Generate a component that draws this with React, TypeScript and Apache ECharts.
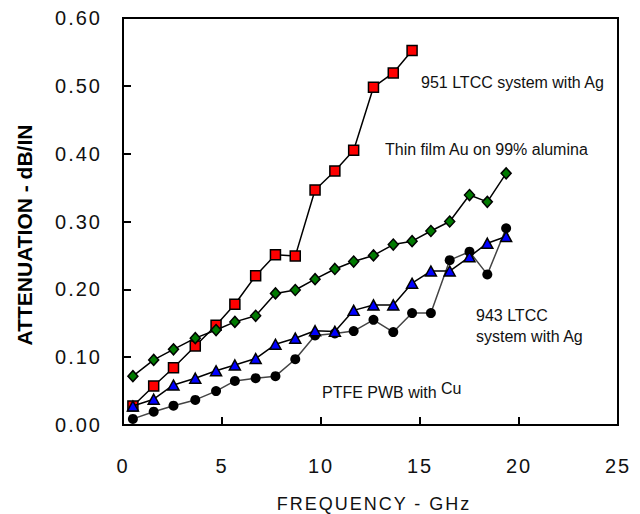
import React, { useEffect, useRef } from "react";
import * as echarts from "echarts";

const freq = [0.5, 1.55, 2.55, 3.65, 4.7, 5.65, 6.7, 7.7, 8.7, 9.7, 10.7, 11.65, 12.65, 13.65, 14.6, 15.55, 16.5, 17.5, 18.4, 19.35];
const ltcc951 = [0.028, 0.0575, 0.0845, 0.1165, 0.147, 0.178, 0.22, 0.251, 0.249, 0.3465, 0.3745, 0.405, 0.498, 0.519, 0.552];
const thinFilm = [0.072, 0.096, 0.1115, 0.128, 0.14, 0.152, 0.161, 0.194, 0.199, 0.215, 0.23, 0.241, 0.25, 0.266, 0.271, 0.286, 0.3, 0.339, 0.329, 0.371];
const ltcc943 = [0.028, 0.038, 0.059, 0.069, 0.08, 0.0885, 0.098, 0.119, 0.128, 0.139, 0.138, 0.169, 0.177, 0.177, 0.209, 0.227, 0.227, 0.248, 0.268, 0.278];
const ptfe = [0.009, 0.0196, 0.0285, 0.037, 0.05, 0.065, 0.069, 0.072, 0.097, 0.132, 0.135, 0.1385, 0.155, 0.137, 0.165, 0.165, 0.243, 0.2555, 0.222, 0.29];

const pairs = (ys: number[]) => ys.map((y, i) => [freq[i], y]);

const FONT = '"Liberation Sans", Arial, sans-serif';

export default function App() {
  const ref = useRef<HTMLDivElement>(null);
  useEffect(() => {
    if (!ref.current) return;
    const chart = echarts.init(ref.current, null, { renderer: "svg" });
    const annot = (text: string, x: number, y: number, size = 16) => ({
      type: "text",
      x,
      y,
      style: { text, fontSize: size, fontFamily: FONT, fill: "#111", align: "left", verticalAlign: "middle" },
    });
    chart.setOption({
      animation: false,
      backgroundColor: "#fff",
      grid: { left: 123, right: 22, top: 18, bottom: 89, show: true, borderColor: "#000", borderWidth: 2, backgroundColor: "transparent" },
      xAxis: {
        type: "value",
        min: 0,
        max: 25,
        interval: 5,
        axisLine: { show: false },
        splitLine: { show: false },
        axisTick: { show: true, inside: true, length: 8, lineStyle: { color: "#000", width: 2 } },
        axisLabel: { margin: 31, fontSize: 20, fontFamily: FONT, color: "#111" },
      },
      yAxis: {
        type: "value",
        min: 0,
        max: 0.6,
        interval: 0.1,
        axisLine: { show: false },
        splitLine: { show: false },
        axisTick: { show: true, inside: true, length: 8, lineStyle: { color: "#000", width: 2 } },
        axisLabel: { margin: 21, fontSize: 20, fontFamily: FONT, color: "#111", formatter: (v: number) => v.toFixed(2) },
      },
      graphic: [
        {
          type: "text",
          x: 24,
          y: 235,
          rotation: Math.PI / 2,
          style: { text: "ATTENUATION - dB/IN", fontSize: 21, fontWeight: "bold", fontFamily: FONT, fill: "#000", align: "center", verticalAlign: "middle" },
        },
        {
          type: "text",
          x: 374,
          y: 504,
          style: { text: "FREQUENCY - GHz", fontSize: 18, fontFamily: FONT, fill: "#111", align: "center", verticalAlign: "middle" },
        },
        annot("951 LTCC system with Ag", 421, 82),
        annot("Thin film Au on 99% alumina", 385, 149),
        annot("943 LTCC", 476, 315),
        annot("system with Ag", 476, 336),
        annot("PTFE PWB with", 322, 392),
        annot("Cu", 441, 388),
      ],
      series: [
        {
          name: "951 LTCC system with Ag",
          type: "line",
          data: pairs(ltcc951),
          symbol: "rect",
          symbolSize: 10,
          lineStyle: { color: "#000", width: 1.5 },
          itemStyle: { color: "#ff0000", borderColor: "#000", borderWidth: 1.5 },
          z: 2,
        },
        {
          name: "PTFE PWB with Cu",
          type: "line",
          data: pairs(ptfe),
          symbol: "circle",
          symbolSize: 10,
          lineStyle: { color: "#444", width: 1.5 },
          itemStyle: { color: "#000", borderColor: "#000", borderWidth: 0 },
          z: 3,
        },
        {
          name: "Thin film Au on 99% alumina",
          type: "line",
          data: pairs(thinFilm),
          symbol: "diamond",
          symbolSize: [10, 11],
          lineStyle: { color: "#000", width: 1.5 },
          itemStyle: { color: "#007a00", borderColor: "#000", borderWidth: 1.5 },
          z: 4,
        },
        {
          name: "943 LTCC system with Ag",
          type: "line",
          data: pairs(ltcc943),
          symbol: "triangle",
          symbolSize: [11, 10],
          lineStyle: { color: "#000", width: 1.5 },
          itemStyle: { color: "#0000ff", borderColor: "#000", borderWidth: 1.5 },
          z: 5,
        },
      ],
    });
    return () => chart.dispose();
  }, []);
  return (
    <>
      <style>{`#atten-chart text[style*="20px"]{letter-spacing:2px}#atten-chart text[style*="18px"]{letter-spacing:2px}`}</style>
      <div id="atten-chart" ref={ref} style={{ position: "absolute", left: 0, top: 0, width: 640, height: 514 }} />
    </>
  );
}
